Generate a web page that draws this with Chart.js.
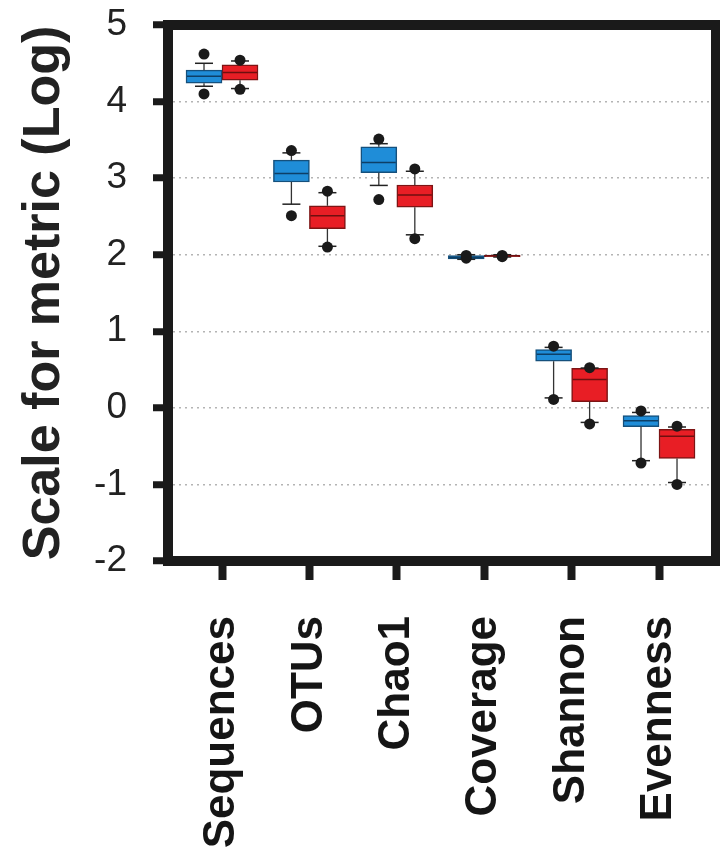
<!DOCTYPE html>
<html lang="en">
<head>
<meta charset="UTF-8">
<title>Scale for metric (Log)</title>
<script src="https://cdn.jsdelivr.net/npm/chart.js@4"></script>
<style>
  html, body { margin: 0; padding: 0; background: #fff; }
  #chart { display: block; }
</style>
</head>
<body>
<canvas id="chart" width="720" height="851"></canvas>
<script>
// metrics on the x axis
const categories = ['Sequences', 'OTUs', 'Chao1', 'Coverage', 'Shannon', 'Evenness'];
const yTicks = [-2, -1, 0, 1, 2, 3, 4, 5];

// blue group (left box in each pair)
const blueMin     = [4.20, 2.66, 2.905, 1.94, 0.13, -0.69];
const blueQ1      = [4.24, 2.95, 3.07, 1.945, 0.61, -0.245];
const blueMedian  = [4.33, 3.06, 3.205, 1.965, 0.70, -0.17];
const blueQ3      = [4.41, 3.235, 3.41, 1.99, 0.76, -0.10];
const blueMax     = [4.50, 3.33, 3.45, 2.00, 0.79, -0.06];
const blueOutLow  = [4.10, 2.51, 2.72, 1.955, 0.11, -0.72];
const blueOutHigh = [4.62, 3.36, 3.51, 1.99, 0.805, -0.04];

// red group (right box in each pair)
const redMin     = [4.17, 2.11, 2.26, 1.97, -0.19, -0.975];
const redQ1      = [4.28, 2.34, 2.62, 1.975, 0.08, -0.66];
const redMedian  = [4.38, 2.51, 2.78, 1.985, 0.37, -0.37];
const redQ3      = [4.48, 2.64, 2.91, 1.995, 0.515, -0.28];
const redMax     = [4.53, 2.81, 3.09, 2.00, 0.52, -0.25];
const redOutLow  = [4.16, 2.10, 2.21, 1.975, -0.21, -1.00];
const redOutHigh = [4.54, 2.83, 3.12, 1.99, 0.525, -0.24];

// half a box width, in category units
const SHIFT = 0.206;

function pts(values, shift) {
  return values.map((v, i) => ({ x: i + shift, y: v }));
}

function whiskers(lo, q1, q3, hi, shift) {
  const out = [];
  categories.forEach((c, i) => {
    const x = i + shift;
    out.push({ x, y: q3[i] }, { x, y: hi[i] }, { x, y: null });
    out.push({ x, y: q1[i] }, { x, y: lo[i] }, { x, y: null });
  });
  return out;
}

function boxes(q1, q3) {
  return q1.map((v, i) => ({ x: i, y: [v, q3[i]] }));
}

const ink = '#1a1a1a';

const framePlugin = {
  id: 'frame',
  afterDraw(chart) {
    const { ctx, chartArea: a } = chart;
    ctx.save();
    ctx.lineWidth = 10;
    ctx.strokeStyle = ink;
    ctx.strokeRect(a.left, a.top, a.right - a.left, a.bottom - a.top);
    ctx.restore();
  }
};

Chart.defaults.font.family = "'Liberation Sans', Arial, sans-serif";

new Chart(document.getElementById('chart'), {
  type: 'bar',
  data: {
    datasets: [
      // outlier dots
      {
        type: 'scatter',
        data: pts(blueOutLow, -SHIFT).concat(pts(blueOutHigh, -SHIFT), pts(redOutLow, SHIFT), pts(redOutHigh, SHIFT)),
        pointRadius: 5.5, pointBackgroundColor: ink, pointBorderColor: ink, pointBorderWidth: 0
      },
      // medians
      {
        type: 'scatter',
        data: pts(blueMedian, -SHIFT),
        pointStyle: 'line', pointRadius: 17, pointBorderWidth: 1.5, pointBorderColor: '#0d3f66'
      },
      {
        type: 'scatter',
        data: pts(redMedian, SHIFT),
        pointStyle: 'line', pointRadius: 17, pointBorderWidth: 1.5, pointBorderColor: '#6e0f0f'
      },
      // whisker caps
      {
        type: 'scatter',
        data: pts(blueMin, -SHIFT).concat(pts(blueMax, -SHIFT), pts(redMin, SHIFT), pts(redMax, SHIFT)),
        pointStyle: 'line', pointRadius: 9, pointBorderWidth: 1.5, pointBorderColor: '#222'
      },
      // whisker stems
      {
        type: 'line',
        data: whiskers(blueMin, blueQ1, blueQ3, blueMax, -SHIFT).concat(whiskers(redMin, redQ1, redQ3, redMax, SHIFT)),
        borderColor: '#333', borderWidth: 1.3, pointRadius: 0, spanGaps: false
      },
      // boxes
      {
        data: boxes(blueQ1, blueQ3),
        backgroundColor: '#1f8dd8', borderColor: '#15507c', borderWidth: 1.5,
        borderSkipped: false, barThickness: 36
      },
      {
        data: boxes(redQ1, redQ3),
        backgroundColor: '#e81e25', borderColor: '#7d1414', borderWidth: 1.5,
        borderSkipped: false, barThickness: 36
      }
    ]
  },
  options: {
    responsive: false,
    animation: false,
    layout: { autoPadding: false, padding: { top: 25, right: 4, left: 0, bottom: 0 } },
    plugins: { legend: { display: false }, tooltip: { enabled: false } },
    scales: {
      x: {
        type: 'linear',
        min: -0.618,
        max: 5.652,
        offset: false,
        afterFit: s => { s.height = 290; s.paddingLeft = 0; s.paddingRight = 0; },
        afterBuildTicks: s => { s.ticks = categories.map((c, i) => ({ value: i })); },
        grid: {
          offset: false, drawOnChartArea: false,
          tickLength: 19, tickWidth: 8, tickColor: ink
        },
        border: { display: true, color: ink, width: 10 },
        ticks: {
          autoSkip: false, minRotation: 90, maxRotation: 90, padding: 36,
          color: '#151515', font: { size: 44, weight: 'bold' },
          callback: v => categories[v] ?? ''
        }
      },
      y: {
        min: -2,
        max: 5,
        afterFit: s => { s.width = 168; s.paddingTop = 0; s.paddingBottom = 0; },
        afterBuildTicks: s => { s.ticks = yTicks.map(v => ({ value: v })); },
        grid: {
          color: '#b4b4b4', lineWidth: 1.5,
          tickLength: 15, tickWidth: 7, tickColor: ink
        },
        border: { display: true, color: ink, width: 10, dash: [2, 4] },
        ticks: { padding: 26, color: '#222', font: { size: 37 } },
        title: {
          display: true, text: 'Scale for metric (Log)', color: '#222',
          font: { size: 52, weight: 'bold' }, padding: { top: 13, bottom: 0 }
        }
      }
    }
  },
  plugins: [framePlugin]
});
</script>
</body>
</html>
